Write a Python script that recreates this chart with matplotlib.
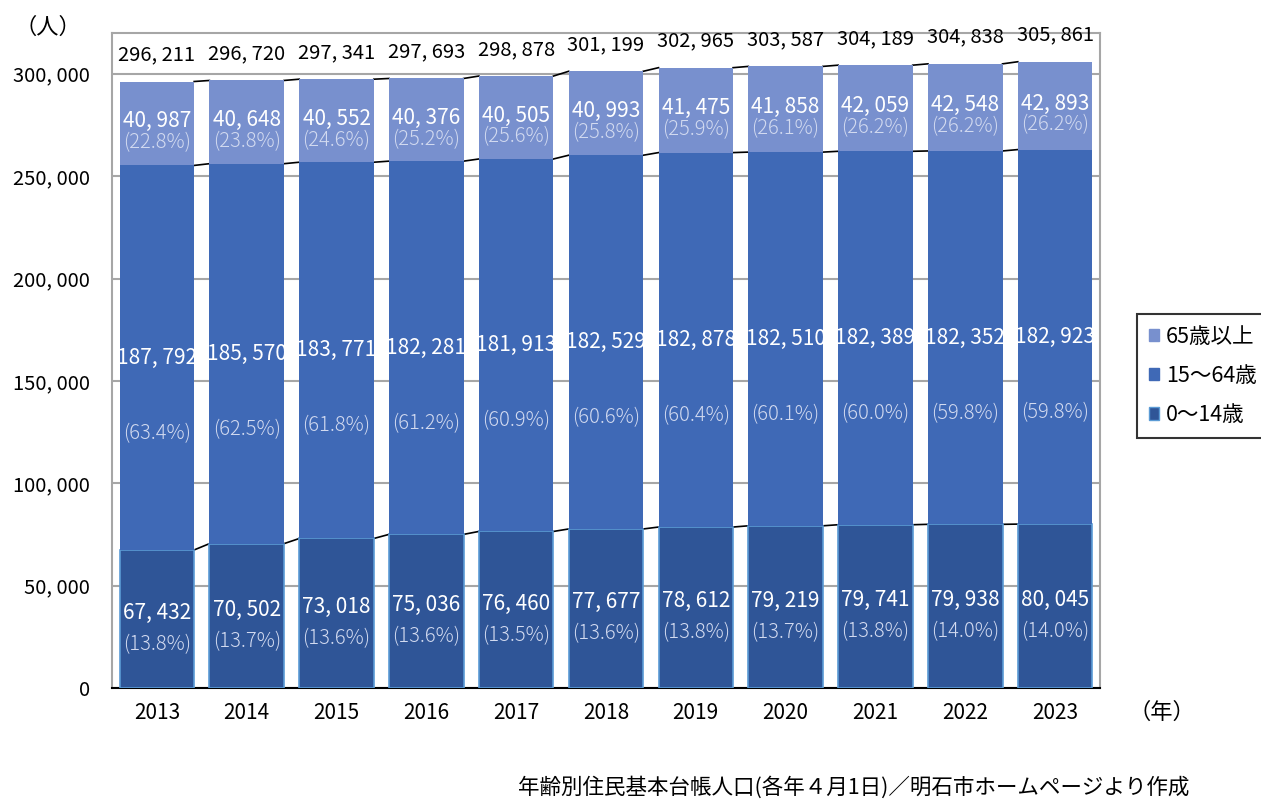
import matplotlib
matplotlib.use("Agg")
import matplotlib.pyplot as plt
import numpy as np
from matplotlib.patches import Patch

plt.rcParams['font.family'] = ['Noto Sans CJK JP', 'DejaVu Sans']

years = ['2013', '2014', '2015', '2016', '2017', '2018', '2019', '2020', '2021', '2022', '2023']
totals = [296211, 296720, 297341, 297693, 298878, 301199, 302965, 303587, 304189, 304838, 305861]
age_0_14 = [67432, 70502, 73018, 75036, 76460, 77677, 78612, 79219, 79741, 79938, 80045]
age_15_64 = [187792, 185570, 183771, 182281, 181913, 182529, 182878, 182510, 182389, 182352, 182923]
age_65 = [40987, 40648, 40552, 40376, 40505, 40993, 41475, 41858, 42059, 42548, 42893]
pct_0_14 = [13.8, 13.7, 13.6, 13.6, 13.5, 13.6, 13.8, 13.7, 13.8, 14.0, 14.0]
pct_15_64 = [63.4, 62.5, 61.8, 61.2, 60.9, 60.6, 60.4, 60.1, 60.0, 59.8, 59.8]
pct_65 = [22.8, 23.8, 24.6, 25.2, 25.6, 25.8, 25.9, 26.1, 26.2, 26.2, 26.2]

c_65 = '#7890CE'
c_mid = '#3F69B6'
c_young = '#2F5597'
c_young_edge = '#5B9BD5'
pct_color = '#D2DAF0'


def fmt(v):
    return f"{v:,}".replace(",", ", ")


fig = plt.figure(figsize=(12.61, 8.0), dpi=100)
ax = fig.add_axes([0.0888, 0.14, 0.7835, 0.819])

x = np.arange(len(years))
w = 0.83
y0 = np.array(age_0_14)
y1 = np.array(age_15_64)
y2 = np.array(age_65)

ax.bar(x, y0, w, color=c_young, edgecolor=c_young_edge, linewidth=1.2, zorder=3)
ax.bar(x, y1, w, bottom=y0, color=c_mid, linewidth=0, zorder=3)
ax.bar(x, y2, w, bottom=y0 + y1, color=c_65, linewidth=0, zorder=3)

# series lines between bars
for tops in [y0, y0 + y1, y0 + y1 + y2]:
    for i in range(len(x) - 1):
        ax.plot([x[i] + w / 2, x[i + 1] - w / 2], [tops[i], tops[i + 1]],
                color='black', lw=1.2, zorder=2)

for i in range(len(x)):
    # 0-14
    c = y0[i] / 2
    ax.text(x[i], c + 3000, fmt(age_0_14[i]), ha='center', va='center',
            color='white', fontsize=15, zorder=4)
    ax.text(x[i], c - 12500, f"({pct_0_14[i]:.1f}%)", ha='center', va='center',
            color=pct_color, fontsize=14.5, fontweight='light', zorder=4)
    # 15-64
    c = y0[i] + y1[i] / 2
    ax.text(x[i], c, fmt(age_15_64[i]), ha='center', va='center',
            color='white', fontsize=15, zorder=4)
    ax.text(x[i], c - 37000, f"({pct_15_64[i]:.1f}%)", ha='center', va='center',
            color=pct_color, fontsize=14.5, fontweight='light', zorder=4)
    # 65+
    c = y0[i] + y1[i] + y2[i] / 2
    ax.text(x[i], c + 1000, fmt(age_65[i]), ha='center', va='center',
            color='white', fontsize=15, zorder=4)
    ax.text(x[i], c - 9500, f"({pct_65[i]:.1f}%)", ha='center', va='center',
            color=pct_color, fontsize=14.5, fontweight='light', zorder=4)
    # total
    ax.text(x[i], totals[i] + 13000, fmt(totals[i]), ha='center', va='center',
            color='black', fontsize=14.5, zorder=4)

ax.set_xlim(-0.5, len(x) - 0.5)
ax.set_ylim(0, 320000)
ax.set_yticks(np.arange(0, 300001, 50000))
ax.set_yticklabels([fmt(v) for v in range(0, 300001, 50000)], fontsize=14.5)
ax.set_xticks(x)
ax.set_xticklabels(years, fontsize=15)
ax.tick_params(axis='y', length=0, pad=16)
ax.tick_params(axis='x', length=0, pad=10)
ax.grid(axis='y', color='#A6A6A6', lw=1.5, zorder=0)
ax.set_axisbelow(True)
for s in ['top', 'right', 'left']:
    ax.spines[s].set_color('#A6A6A6')
    ax.spines[s].set_linewidth(1.5)
ax.spines['bottom'].set_color('black')
ax.spines['bottom'].set_linewidth(1.5)

fig.text(0.038, 0.966, '（人）', fontsize=16, ha='center', va='center')
fig.text(0.921, 0.109, '（年）', fontsize=16, ha='center', va='center')
fig.text(0.677, 0.016, '年齢別住民基本台帳人口(各年４月1日)／明石市ホームページより作成',
         fontsize=15.5, ha='center', va='center')

handles = [Patch(facecolor=c_65, edgecolor=c_65, label='65歳以上'),
           Patch(facecolor=c_mid, edgecolor=c_mid, label='15～64歳'),
           Patch(facecolor=c_young, edgecolor=c_young_edge, label='0～14歳')]
leg = fig.legend(handles=handles, loc='center left', bbox_to_anchor=(0.893, 0.53),
                 fontsize=15.5, frameon=True, fancybox=False, edgecolor='black',
                 handlelength=0.5, handleheight=0.5, handletextpad=0.3,
                 labelspacing=0.8, borderpad=0.55)
leg.get_frame().set_linewidth(1.5)

fig.savefig('out.png', dpi=100)
